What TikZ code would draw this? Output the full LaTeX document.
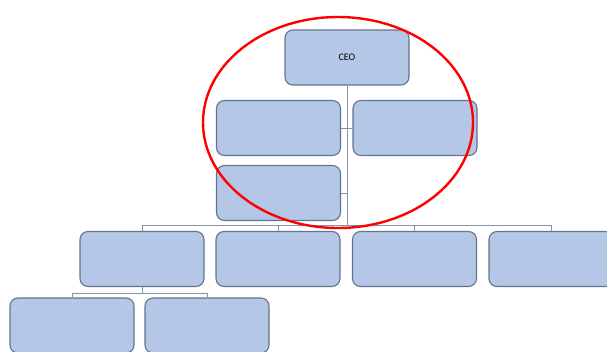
\documentclass[tikz,border=0pt]{standalone}
\usepackage{fontspec}
\setmainfont{Carlito}
\begin{document}
\begin{tikzpicture}[x=1pt,y=-1pt,
  orgbox/.style={draw=boxline, fill=boxfill, line width=1.1pt, rounded corners=8pt,
    minimum width=124pt, minimum height=55pt, inner sep=0pt, font=\fontsize{10}{12}\selectfont},
  conn/.style={draw=connline, line width=0.8pt}]
\definecolor{boxfill}{HTML}{B4C7E7}
\definecolor{boxline}{HTML}{64748C}
\definecolor{connline}{HTML}{8495AE}
\useasboundingbox (0,0) rectangle (607,351);
\clip (0,0) rectangle (607,351);
\node[orgbox] (ceo) at (347,57.5) {CEO};
\node[orgbox] (b1) at (278.5,128) {};
\node[orgbox] (b2) at (415,128) {};
\node[orgbox] (b3) at (278.5,193) {};
\node[orgbox] (c1) at (142,259) {};
\node[orgbox] (c2) at (278,259) {};
\node[orgbox] (c3) at (414.5,259) {};
\node[orgbox] (c4) at (551,259) {};
\node[orgbox] (d1) at (72,325.5) {};
\node[orgbox] (d2) at (207,325.5) {};
\coordinate (bus) at (347,225);
\coordinate (bus2) at (142,293);
\draw[conn] (ceo.south) -- (bus);
\draw[conn] (b1.east) -- (b2.west);
\draw[conn] (b3.east) -- (b3.east -| ceo.south);
\draw[conn] (c1.north |- bus) -- (c4.north |- bus);
\foreach \n in {c1,c2,c3,c4} \draw[conn] (\n.north |- bus) -- (\n.north);
\draw[conn] (c1.south) -- (bus2);
\draw[conn] (d1.north |- bus2) -- (d2.north |- bus2);
\foreach \n in {d1,d2} \draw[conn] (\n.north |- bus2) -- (\n.north);
\draw[red, line width=2.4pt] (338,122.5) ellipse [x radius=135pt, y radius=105.5pt];
\end{tikzpicture}
\end{document}
